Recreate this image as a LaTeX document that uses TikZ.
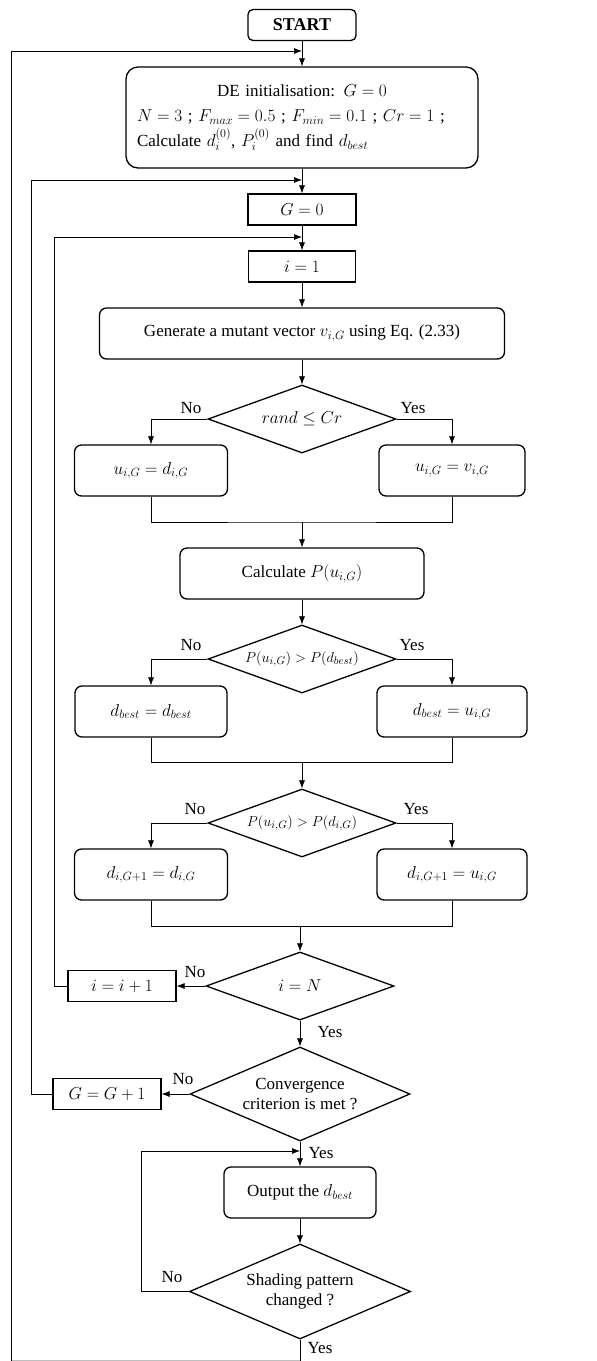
\documentclass[tikz,border=0pt]{standalone}
\usepackage{fontspec}
\setmainfont{Liberation Serif}
\usetikzlibrary{arrows.meta, shapes.geometric}

\begin{document}
\begin{tikzpicture}[x=1pt, y=-1pt, font=\fontsize{17}{20}\selectfont,
    box/.style = {draw, line width=1.3pt, minimum height=31pt, inner sep=0pt},
    rbox/.style = {draw, line width=1.3pt, rounded corners=7pt, minimum height=51pt, inner sep=0pt},
    decision/.style = {draw, diamond, line width=1.3pt, inner sep=0pt, minimum width=188pt, minimum height=68pt},
    flow/.style = {line width=0.7pt},
    arr/.style = {flow, -{Latex[length=8pt, width=6pt]}},
    small/.style = {font=\fontsize{15}{18}\selectfont}]
    \useasboundingbox (0,0) rectangle (597,1361);

    % main column
    \node[box, rounded corners=5pt, minimum width=108pt, font=\fontsize{18}{20}\selectfont\bfseries] (start) at (302,25) {START};
    \node[rbox, rounded corners=12pt, minimum width=352pt, minimum height=101pt, text width=330pt, align=left,
          font=\fontsize{17}{25}\selectfont] (init) at (302,117.5)
          {\makebox[\linewidth]{DE initialisation: $G=0$}\\
           $N=3$ ; $F_{max}=0.5$ ; $F_{min}=0.1$ ; $Cr=1$ ;\\
           Calculate $d_i^{(0)}$, $P_i^{(0)}$ and find $d_{best}$};
    \node[box, minimum width=108pt] (gzero) at (302,209.5) {$G=0$};
    \node[box, minimum width=107pt] (ione) at (302,266.5) {$i=1$};
    \node[rbox, minimum width=405pt] (mutant) at (302,333.5) {Generate a mutant vector $v_{i,G}$ using Eq. (2.33)};
    \node[decision, label={center:$rand\leq Cr$}] (cross) at (302,419) {};
    \node[rbox, minimum width=153pt] (uleft) at (151,470.5) {$u_{i,G}=d_{i,G}$};
    \node[rbox, minimum width=146pt] (uright) at (452,470.5) {$u_{i,G}=v_{i,G}$};
    \node[rbox, minimum width=244pt] (calc) at (302,573.5) {Calculate $P(u_{i,G})$};
    \node[decision, label={[small]center:$P(u_{i,G})>P(d_{best})$}] (best) at (302,659) {};
    \node[rbox, minimum width=152pt] (bleft) at (151,711.5) {$d_{best}=d_{best}$};
    \node[rbox, minimum width=150pt] (bright) at (452,711.5) {$d_{best}=u_{i,G}$};
    \node[decision, label={[small]center:$P(u_{i,G})>P(d_{i,G})$}] (select) at (302,823) {};
    \node[rbox, minimum width=153pt] (dleft) at (151,874.5) {$d_{i,G+1}=d_{i,G}$};
    \node[rbox, minimum width=150pt] (dright) at (452,874.5) {$d_{i,G+1}=u_{i,G}$};
    \node[decision, label={center:$i=N$}] (last) at (300,986) {};
    \node[box, minimum width=108pt] (iinc) at (122,986) {$i=i+1$};
    \node[decision, minimum width=220pt, minimum height=94pt,
          label={[align=center]center:Convergence\\criterion is met ?}] (conv) at (300,1094) {};
    \node[box, minimum width=108pt] (ginc) at (107,1094) {$G=G+1$};
    \node[rbox, minimum width=152pt] (output) at (300,1192.5) {Output the $d_{best}$};
    \node[decision, minimum width=221pt, minimum height=95pt,
          label={[align=center]center:Shading pattern\\changed ?}] (shade) at (300,1291.5) {};

    % junctions
    \coordinate (o1) at (302,51);   \coordinate (c1) at (11,51);
    \coordinate (o2) at (302,180);  \coordinate (c2) at (31,180);
    \coordinate (o3) at (302,237);  \coordinate (c3) at (54,237);
    \coordinate (o4) at (300,1151); \coordinate (c4) at (141,1151);
    \coordinate (m1) at (302,522);
    \coordinate (m2) at (302,762);
    \coordinate (m3) at (300,926);
    \coordinate (end) at (300,1360.5);
    \coordinate (c0) at (11,1360.5);

    % flow
    \draw[arr] (start) -- (init);
    \draw[arr] (init) -- (gzero);
    \draw[arr] (gzero) -- (ione);
    \draw[arr] (ione) -- (mutant);
    \draw[arr] (mutant) -- (cross);
    \draw[arr] (cross.west) -| (uleft.north);
    \draw[arr] (cross.east) -| (uright.north);
    \draw[flow] (uleft.south) |- (m1) -| (uright.south);
    \draw[arr] (m1) -- (calc);
    \draw[arr] (calc) -- (best);
    \draw[arr] (best.west) -| (bleft.north);
    \draw[arr] (best.east) -| (bright.north);
    \draw[flow] (bleft.south) |- (m2) -| (bright.south);
    \draw[arr] (m2) -- (select);
    \draw[arr] (select.west) -| (dleft.north);
    \draw[arr] (select.east) -| (dright.north);
    \draw[flow] (dleft.south) |- (m3) -| (dright.south);
    \draw[arr] (m3) -- (last);
    \draw[arr] (last.west) -- (iinc.east);
    \draw[arr] (last.south) -- (conv.north);
    \draw[arr] (conv.west) -- (ginc.east);
    \draw[arr] (conv.south) -- (output.north);
    \draw[arr] (output) -- (shade);

    % loops back
    \draw[arr] (iinc.west) -| (c3) -- (o3);
    \draw[arr] (ginc.west) -| (c2) -- (o2);
    \draw[arr] (shade.west) -| (c4) -- (o4);
    \draw[flow] (shade.south) -- (end);
    \draw[flow, black!25] (end) -- (c0);
    \draw[arr] (c0) -- (c1) -- (o1);

    % branch labels
    \node (no1) at (191,408) {No};
    \node (yes1) at (413,408) {Yes};
    \node (no2) at (191,645) {No};
    \node (yes2) at (412,645) {Yes};
    \node (no3) at (195,809) {No};
    \node (yes3) at (416,809) {Yes};
    \node (no4) at (195,972) {No};
    \node (yes4) at (330,1032) {Yes};
    \node (no5) at (183,1079) {No};
    \node (yes5) at (321,1153) {Yes};
    \node (no6) at (172,1277) {No};
    \node (yes6) at (320,1348) {Yes};
\end{tikzpicture}
\end{document}
